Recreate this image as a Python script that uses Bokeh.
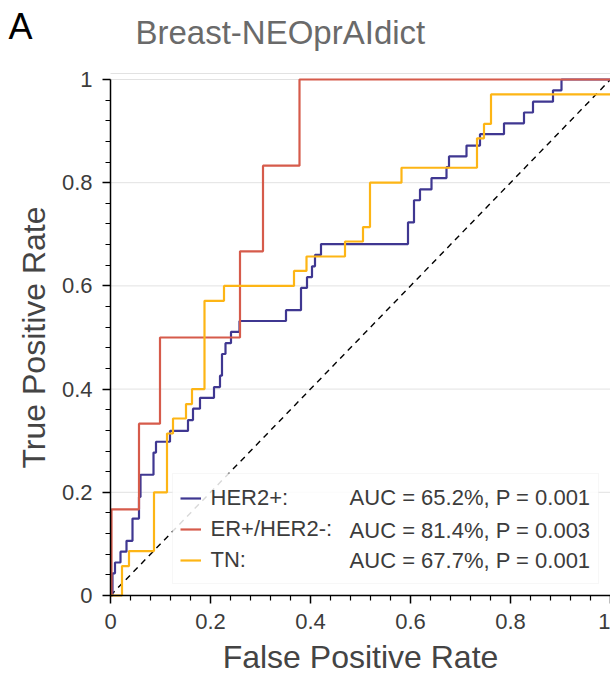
from bokeh.plotting import figure
from bokeh.models import FixedTicker, Legend, LegendItem, Label, Range1d, BoxAnnotation
from bokeh.core.properties import value
from bokeh.embed import file_html
from bokeh.resources import INLINE

# ---------------- data ----------------
her2_fpr = [0.004, 0.009, 0.020, 0.032, 0.044, 0.057, 0.060, 0.086, 0.091, 0.119,
            0.155, 0.165, 0.179, 0.207, 0.219, 0.223, 0.230, 0.241, 0.258, 0.351,
            0.381, 0.393, 0.403, 0.409, 0.421, 0.595, 0.607, 0.619, 0.642, 0.672,
            0.677, 0.712, 0.739, 0.787, 0.827, 0.845, 0.885, 0.902]
her2_tpr = [0.043, 0.064, 0.085, 0.106, 0.149, 0.191, 0.234, 0.277, 0.298, 0.319,
            0.340, 0.362, 0.383, 0.404, 0.426, 0.468, 0.489, 0.511, 0.532, 0.553,
            0.596, 0.617, 0.638, 0.660, 0.681, 0.723, 0.766, 0.787, 0.809, 0.830,
            0.851, 0.872, 0.894, 0.915, 0.936, 0.957, 0.979, 1.0]

er_fpr = [0.002, 0.057, 0.099, 0.259, 0.305, 0.378]
er_tpr = [0.167, 0.333, 0.500, 0.667, 0.833, 1.0]

tn_fpr = [0.023, 0.037, 0.087, 0.113, 0.125, 0.151, 0.163, 0.188, 0.227, 0.367,
          0.392, 0.469, 0.505, 0.519, 0.582, 0.733, 0.747, 0.761]
tn_tpr = [0.057, 0.086, 0.200, 0.314, 0.343, 0.371, 0.400, 0.571, 0.600, 0.629,
          0.657, 0.686, 0.714, 0.800, 0.829, 0.886, 0.914, 0.971]

diag_x = [0.0, 1.0]
diag_y = [0.0, 1.0]

series_names = ["HER2+:", "ER+/HER2-:", "TN:"]
series_stats = ["AUC = 65.2%, P = 0.001", "AUC = 81.4%, P = 0.003", "AUC = 67.7%, P = 0.001"]

major_ticks = [0, 0.2, 0.4, 0.6, 0.8, 1]
major_labels = ["0", "0.2", "0.4", "0.6", "0.8", "1"]
minor_ticks = [0.04, 0.08, 0.12, 0.16, 0.24, 0.28, 0.32, 0.36, 0.44, 0.48, 0.52, 0.56,
               0.64, 0.68, 0.72, 0.76, 0.84, 0.88, 0.92, 0.96]

title_text = "Breast-NEOprAIdict"
panel_letter = "A"

# ---------------- geometry (pixels) ----------------
W, H = 610, 678
AX_LEFT_PX = 110      # x = 0
X_UNIT_PX = 500       # px per unit of FPR
AX_BOTTOM_PX = 595    # y = 0
Y_UNIT_PX = 516       # px per unit of TPR
TOP_BORDER_PX = 73

def dx(px):
    return (px - AX_LEFT_PX) / X_UNIT_PX

def dy(py):
    return (AX_BOTTOM_PX - py) / Y_UNIT_PX

def roc_path(fpr, tpr):
    xs, ys = [0.0], [0.0]
    for f, t in zip(fpr, tpr):
        xs += [f, f]
        ys += [ys[-1], t]
    xs.append(1.0)
    ys.append(ys[-1])
    return xs, ys

FONT = "Liberation Sans"
C_PURPLE = "#3F3791"
C_RED = "#D65B4B"
C_YELLOW = "#FDB515"
TXT = "#3c3c3c"

# frame covers the whole canvas; axes are pinned at x=0 / y=0
p = figure(width=W, height=H, output_backend="svg", toolbar_location=None,
           x_range=Range1d(dx(0), dx(W)), y_range=Range1d(dy(H), dy(0)),
           min_border=0)

p.outline_line_color = None
p.background_fill_color = "white"
p.border_fill_color = "white"
p.xgrid.visible = False
p.ygrid.visible = False

# horizontal grid lines (from the tick list) and faint top border
grid_y = major_ticks[1:] + [dy(TOP_BORDER_PX)]
p.segment(x0=[0] * len(grid_y), x1=[1] * len(grid_y), y0=grid_y, y1=grid_y,
          line_color="#e2e2e2", line_width=1)

for ax in (p.xaxis[0], p.yaxis[0]):
    ax.ticker = FixedTicker(ticks=major_ticks, minor_ticks=minor_ticks)
    ax.major_label_overrides = {t: l for t, l in zip(major_ticks, major_labels)}
    ax.bounds = (0, 1)
    ax.fixed_location = 0
    ax.axis_line_color = "black"
    ax.axis_line_width = 1.5
    ax.major_tick_line_color = "black"
    ax.major_tick_line_width = 1.5
    ax.minor_tick_line_color = "black"
    ax.minor_tick_line_width = 1.2
    ax.major_tick_in = 0
    ax.major_tick_out = 8
    ax.minor_tick_in = 0
    ax.minor_tick_out = 5
    ax.major_label_text_font = FONT
    ax.major_label_text_font_size = "22px"
    ax.major_label_text_color = TXT
    ax.major_label_standoff = 10
    ax.axis_label_text_font = FONT
    ax.axis_label_text_font_size = "32px"
    ax.axis_label_text_font_style = "normal"
    ax.axis_label_text_color = "#444444"
    ax.axis_label_standoff = 7

p.xaxis.axis_label = "False Positive Rate"
p.yaxis.axis_label = "True Positive Rate"

p.line(diag_x, diag_y, line_color="black", line_width=1.4, line_dash="6 5")

hx, hy = roc_path(her2_fpr, her2_tpr)
ex, ey = roc_path(er_fpr, er_tpr)
tx, ty = roc_path(tn_fpr, tn_tpr)
r_her2 = p.line(hx, hy, line_color=C_PURPLE, line_width=2.2)
r_er = p.line(ex, ey, line_color=C_RED, line_width=2.2)
r_tn = p.line(tx, ty, line_color=C_YELLOW, line_width=2.2)

# legend background box (semi-transparent, over the curves)
p.add_layout(BoxAnnotation(left=dx(172), right=dx(598), bottom=dy(583), top=dy(473),
                           fill_color="white", fill_alpha=0.85,
                           line_color="#e6e6e6", line_width=1, level="glyph"))

legend = Legend(items=[LegendItem(label=series_names[0], renderers=[r_her2]),
                       LegendItem(label=series_names[1], renderers=[r_er]),
                       LegendItem(label=series_names[2], renderers=[r_tn])],
                location=(179.5, H - 595 + 20.5), margin=0, padding=8, spacing=1,
                glyph_width=21, glyph_height=30, label_height=30,
                label_width=370, label_standoff=10,
                label_text_font=FONT, label_text_font_size="22px",
                label_text_color=TXT,
                background_fill_alpha=0, border_line_color=None)
p.add_layout(legend)

row_py = [497, 529.5, 559.5]
for s, py in zip(series_stats, row_py):
    p.add_layout(Label(x=590, y=H - py, x_units="screen", y_units="screen",
                       text=s, text_align="right", text_baseline="middle",
                       text_font=FONT, text_font_size="22px", text_color=TXT))

# header texts
p.text(x=[dx(8)], y=[dy(25.5)], text=[panel_letter], text_font=value(FONT),
       text_font_size=value("36px"), text_color="black",
       text_align="left", text_baseline="alphabetic")
p.text(x=[dx(135)], y=[dy(31.5)], text=[title_text], text_font=value(FONT),
       text_font_size=value("33px"), text_color="#6a6a6a",
       text_align="left", text_baseline="alphabetic")

open("out.html", "w").write(file_html(p, INLINE))
